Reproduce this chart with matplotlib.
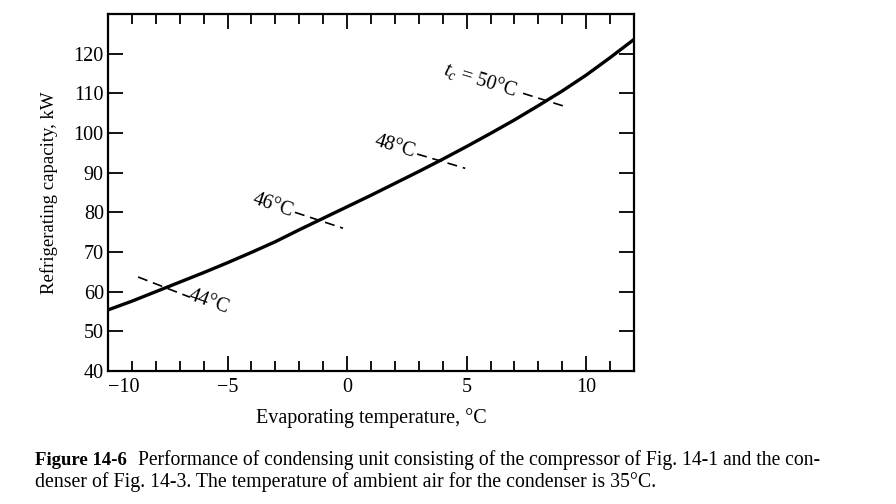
import numpy as np
import matplotlib
matplotlib.use('Agg')
import matplotlib.pyplot as plt
from matplotlib.ticker import MultipleLocator

plt.rcParams['font.family'] = ['Liberation Serif', 'DejaVu Serif']
plt.rcParams['mathtext.fontset'] = 'custom'
plt.rcParams['mathtext.rm'] = 'Liberation Serif'
plt.rcParams['mathtext.it'] = 'Liberation Serif:italic'

# evaporating temperature (C) and refrigerating capacity (kW)
evap_temp = [-10, -9, -8, -7, -6, -5, -4, -3, -2, -1, 0, 1, 2, 3, 4, 5, 6, 7, 8, 9, 10, 11, 12]
capacity = [55.4, 57.6, 60.0, 62.4, 64.8, 67.3, 69.9, 72.6, 75.6, 78.5, 81.4, 84.3,
            87.3, 90.3, 93.4, 96.6, 99.9, 103.3, 106.9, 110.6, 114.6, 119.0, 123.6]

# condensing temperature crossings (dashed lines)
cond_labels = ['44°C', '46°C', '48°C', '$t_c$ = 50°C']
dash_x = [(-8.74, -6.57), (-2.18, -0.17), (2.93, 4.94), (7.36, 9.21)]
dash_y = [(63.7, 58.6), (80.0, 76.0), (94.7, 91.1), (110.0, 106.5)]
label_x = [-5.8, -3.1, 2.0, 5.6]
label_y = [57.3, 81.7, 96.6, 113.4]
label_rot = [-20, -19, -17, -17]

fig = plt.figure(figsize=(8.96, 5.04), dpi=100)
ax = fig.add_axes([0.1205, 0.2639, 0.5871, 0.7083])

ax.plot(evap_temp, capacity, color='black', lw=2.4, solid_capstyle='butt')

for i in range(len(cond_labels)):
    ax.plot(dash_x[i], dash_y[i], color='black', lw=1.2, dashes=(6, 3.5))
    ax.text(label_x[i], label_y[i], cond_labels[i], fontsize=14.5, rotation=label_rot[i],
            ha='center', va='center', rotation_mode='anchor')

ax.set_xlim(-10, 12)
ax.set_ylim(40, 130)
ax.xaxis.set_major_locator(MultipleLocator(5))
ax.xaxis.set_minor_locator(MultipleLocator(1))
ax.set_yticks(np.arange(40, 130, 10))

ax.tick_params(which='both', direction='in', top=True, right=True, width=1.3, labelsize=14.5)
ax.tick_params(axis='x', which='major', length=11, pad=5)
ax.tick_params(axis='x', which='minor', length=7)
ax.tick_params(axis='y', which='major', length=11, pad=3)
for s in ax.spines.values():
    s.set_linewidth(1.6)

ax.set_xticks([-10, -5, 0, 5, 10])
ax.set_xticklabels(['\u221210', '\u22125', '0', '5', '10'])
ax.get_xticklabels()[0].set_horizontalalignment('left')

ax.set_xlabel('Evaporating temperature, °C', fontsize=14.5, labelpad=8)
ax.set_ylabel('Refrigerating capacity, kW', fontsize=13.5, labelpad=11)

fig.text(0.039, 0.087, 'Figure 14-6', fontsize=13.5, fontweight='bold', va='center')
fig.text(0.154, 0.087, 'Performance of condensing unit consisting of the compressor of Fig. 14-1 and the con-',
         fontsize=14.1, va='center')
fig.text(0.039, 0.044, 'denser of Fig. 14-3. The temperature of ambient air for the condenser is 35°C.',
         fontsize=14.3, va='center')

fig.savefig('out.png', dpi=100)
